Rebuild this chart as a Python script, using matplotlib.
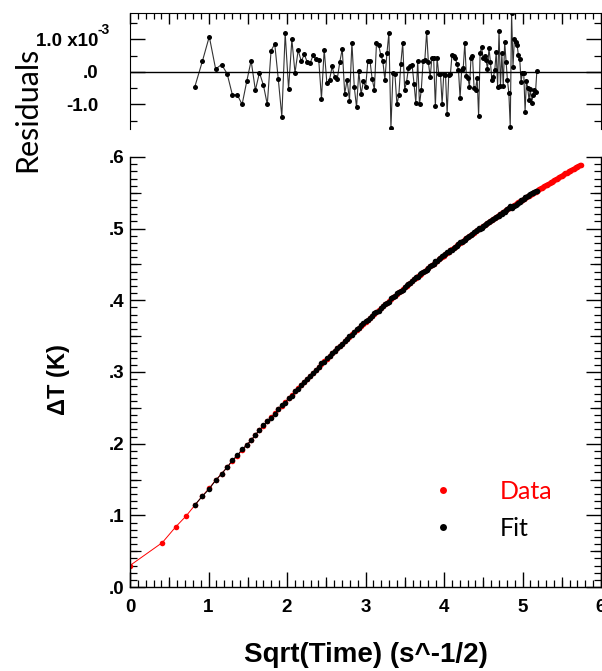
import matplotlib
matplotlib.use('Agg')
import matplotlib.pyplot as plt
from matplotlib.lines import Line2D
from matplotlib.ticker import MultipleLocator, FixedLocator, NullFormatter
import numpy as np

plt.rcParams['axes.unicode_minus'] = False

# ---------------- data ----------------
sqrt_time = [0.000, 0.412, 0.583, 0.714, 0.825, 0.922, 1.010, 1.091, 1.166, 1.237,
             1.304, 1.367, 1.428, 1.487, 1.543, 1.597, 1.649, 1.700, 1.749, 1.797,
             1.844, 1.889, 1.934, 1.977, 2.020, 2.062, 2.102, 2.142, 2.182, 2.220,
             2.258, 2.296, 2.332, 2.369, 2.404, 2.439, 2.474, 2.508, 2.542, 2.575,
             2.608, 2.640, 2.672, 2.704, 2.735, 2.766, 2.796, 2.827, 2.857, 2.886,
             2.915, 2.944, 2.973, 3.002, 3.030, 3.058, 3.085, 3.113, 3.140, 3.167,
             3.194, 3.220, 3.247, 3.273, 3.298, 3.324, 3.350, 3.375, 3.400, 3.425,
             3.450, 3.474, 3.499, 3.523, 3.547, 3.571, 3.594, 3.618, 3.641, 3.665,
             3.688, 3.711, 3.734, 3.756, 3.779, 3.801, 3.824, 3.846, 3.868, 3.890,
             3.912, 3.933, 3.955, 3.976, 3.997, 4.019, 4.040, 4.061, 4.082, 4.102,
             4.123, 4.144, 4.164, 4.184, 4.205, 4.225, 4.245, 4.265, 4.285, 4.305,
             4.324, 4.344, 4.363, 4.383, 4.402, 4.422, 4.441, 4.460, 4.479, 4.498,
             4.517, 4.535, 4.554, 4.573, 4.591, 4.610, 4.628, 4.647, 4.665, 4.683,
             4.701, 4.719, 4.737, 4.755, 4.773, 4.791, 4.808, 4.826, 4.844, 4.861,
             4.879, 4.896, 4.913, 4.931, 4.948, 4.965, 4.982, 4.999, 5.016, 5.033,
             5.050, 5.067, 5.083, 5.100, 5.117, 5.133, 5.150, 5.166, 5.183, 5.199,
             5.215, 5.232, 5.248, 5.264, 5.280, 5.296, 5.312, 5.328, 5.344, 5.360,
             5.376, 5.392, 5.407, 5.423, 5.439, 5.454, 5.470, 5.485, 5.501, 5.516,
             5.532, 5.547, 5.562, 5.578, 5.593, 5.608, 5.623, 5.638, 5.653, 5.668,
             5.683, 5.698, 5.713, 5.728, 5.743]

delta_t = [0.0300, 0.0620, 0.0840, 0.0990, 0.1140, 0.1270, 0.1380, 0.1490, 0.1580, 0.1670,
           0.1760, 0.1830, 0.1910, 0.1980, 0.2050, 0.2120, 0.2190, 0.2250, 0.2310, 0.2370,
           0.2423, 0.2477, 0.2531, 0.2582, 0.2633, 0.2682, 0.2729, 0.2775, 0.2822, 0.2866,
           0.2909, 0.2951, 0.2992, 0.3034, 0.3073, 0.3112, 0.3150, 0.3187, 0.3224, 0.3260,
           0.3295, 0.3329, 0.3363, 0.3397, 0.3429, 0.3462, 0.3494, 0.3526, 0.3556, 0.3586,
           0.3615, 0.3645, 0.3674, 0.3704, 0.3732, 0.3759, 0.3786, 0.3813, 0.3840, 0.3866,
           0.3893, 0.3918, 0.3944, 0.3969, 0.3993, 0.4017, 0.4042, 0.4066, 0.4090, 0.4113,
           0.4136, 0.4158, 0.4182, 0.4204, 0.4226, 0.4248, 0.4269, 0.4291, 0.4312, 0.4333,
           0.4354, 0.4374, 0.4395, 0.4415, 0.4435, 0.4455, 0.4475, 0.4494, 0.4513, 0.4532,
           0.4551, 0.4570, 0.4589, 0.4607, 0.4625, 0.4644, 0.4662, 0.4680, 0.4697, 0.4714,
           0.4732, 0.4750, 0.4767, 0.4783, 0.4801, 0.4817, 0.4834, 0.4850, 0.4866, 0.4883,
           0.4898, 0.4914, 0.4930, 0.4946, 0.4962, 0.4977, 0.4992, 0.5007, 0.5022, 0.5036,
           0.5051, 0.5065, 0.5080, 0.5095, 0.5109, 0.5123, 0.5137, 0.5151, 0.5164, 0.5177,
           0.5191, 0.5204, 0.5217, 0.5231, 0.5244, 0.5257, 0.5270, 0.5282, 0.5295, 0.5307,
           0.5320, 0.5332, 0.5344, 0.5356, 0.5368, 0.5380, 0.5392, 0.5404, 0.5416, 0.5427,
           0.5439, 0.5451, 0.5461, 0.5473, 0.5485, 0.5495, 0.5507, 0.5518, 0.5529, 0.5540,
           0.5551, 0.5562, 0.5573, 0.5584, 0.5594, 0.5605, 0.5615, 0.5626, 0.5637, 0.5647,
           0.5658, 0.5669, 0.5679, 0.5689, 0.5699, 0.5709, 0.5720, 0.5729, 0.5740, 0.5749,
           0.5760, 0.5770, 0.5779, 0.5790, 0.5799, 0.5809, 0.5819, 0.5828, 0.5838, 0.5847,
           0.5857, 0.5866, 0.5876, 0.5885, 0.5895]

# fit covers data points index 4 .. 158
fit_first = 4
fit_last = 158

# residuals (data - fit) in units of 1e-3 K
residuals_e3 = [-0.46, 0.33, 1.09, 0.09, 0.23, -0.05, -0.70, -0.70, -1.00, -0.29,
                0.35, -0.56, -0.02, -0.41, -1.00, 0.66, 0.86, -0.22, -1.37, 1.19,
                -0.52, 1.00, -0.03, 0.67, 0.33, 0.54, 0.31, 0.28, 0.51, 0.39,
                0.38, -0.82, 0.69, -0.34, -0.24, 0.17, -0.16, -0.22, 0.30, 0.71,
                -0.67, -0.24, -0.88, 0.90, -0.46, -1.09, 0.02, -0.68, -0.29, -0.46,
                0.33, 0.33, -0.22, -0.54, 0.89, 0.84, 0.53, 0.35, -0.24, 0.58,
                1.20, -1.72, -0.04, -0.06, -1.00, -0.70, 0.25, 0.89, -0.54, -0.31,
                0.12, 0.17, 0.21, -0.36, -0.95, 0.33, -1.00, -0.54, 0.35, 0.38,
                1.23, 0.30, -0.16, 0.43, 0.43, -1.06, 0.43, -0.06, -0.06, -0.98,
                -0.06, -0.08, -1.29, -0.08, -0.06, 0.53, 0.48, 0.43, 0.25, 0.07,
                -0.80, 0.07, 0.12, 0.89, -0.13, -0.18, -0.46, 0.43, 0.48, -0.49,
                -0.54, -0.18, -1.36, 0.57, 0.78, 0.42, 0.49, 0.37, 0.10, 0.73,
                0.32, -0.25, -0.16, 0.06, 0.62, -0.45, 1.27, -0.43, 0.57, -0.43,
                0.93, 0.32, -0.25, -0.64, -1.68, 1.81, 0.16, 1.00, 0.93, 0.83,
                0.52, 0.39, -0.30, -0.02, -0.04, -1.22, -0.27, -0.50, -0.86, -0.53,
                -0.96, -0.71, -0.55, -0.61, 0.03]

x_ticks_main = [0, 1, 2, 3, 4, 5, 6]
x_tick_labels = ['0', '1', '2', '3', '4', '5', '6']
y_ticks_main = [0.0, 0.1, 0.2, 0.3, 0.4, 0.5, 0.6]
y_tick_labels = ['.0', '.1', '.2', '.3', '.4', '.5', '.6']
res_ticks = [-1.0, 0.0, 1.0]
res_tick_labels = ['-1.0', '.0', '1.0 x10']
res_exponent = '-3'

# --------------- derived ---------------
x_data = np.array(sqrt_time)
y_data = np.array(delta_t)
x_fit = x_data[fit_first:fit_last + 1]
res = np.array(residuals_e3)
y_fit = y_data[fit_first:fit_last + 1] - res * 1e-3

W, H = 602, 671
fig = plt.figure(figsize=(W / 100, H / 100), dpi=100)

def frac_box(l, t, r, b):
    return [l / W, 1 - b / H, (r - l) / W, (b - t) / H]

ax = fig.add_axes(frac_box(130, 157, 601, 587))
axr = fig.add_axes(frac_box(130, 13, 601, 129))

TICKFONT = dict(family='Liberation Sans', weight='bold', size=13.5)

# ---- main plot ----
ax.plot(x_data, y_data, color='red', lw=0.7, marker='o', ms=4.0, mew=0, zorder=2)
ax.plot(x_fit, y_fit, color='black', lw=0.7, marker='o', ms=4.0, mew=0, zorder=3)

ax.set_xlim(0, 6)
ax.set_ylim(0, 0.6)
ax.spines['top'].set_visible(False)
for s in ['left', 'right', 'bottom']:
    ax.spines[s].set_linewidth(1.0)
ax.xaxis.set_major_locator(FixedLocator(x_ticks_main))
ax.xaxis.set_minor_locator(MultipleLocator(0.1))
ax.yaxis.set_major_locator(FixedLocator(y_ticks_main))
ax.yaxis.set_minor_locator(MultipleLocator(0.01))
ax.set_xticklabels(x_tick_labels, fontdict=TICKFONT)
ax.set_yticklabels(y_tick_labels, fontdict=TICKFONT)
ax.tick_params(which='both', direction='in', top=False, right=True, width=1, color='black')
ax.tick_params(which='major', length=11)
ax.tick_params(which='minor', length=5, width=0.9)
ax.tick_params(axis='x', which='major', pad=9)
ax.tick_params(axis='y', which='major', pad=4)

# medium ticks at halves
for loc in ['bottom']:
    sx = ax.secondary_xaxis(loc)
    sx.xaxis.set_major_locator(FixedLocator(list(np.arange(0.5, 6, 1.0))))
    sx.xaxis.set_major_formatter(NullFormatter())
    sx.tick_params(direction='in', length=7, width=0.9)
    sx.spines[loc].set_visible(False)
for loc in ['left', 'right']:
    sy = ax.secondary_yaxis(loc)
    sy.yaxis.set_major_locator(FixedLocator(list(np.arange(0.05, 0.6, 0.1))))
    sy.yaxis.set_major_formatter(NullFormatter())
    sy.tick_params(direction='in', length=8, width=0.9)
    sy.spines[loc].set_visible(False)

handles = [Line2D([], [], color='red', marker='o', linestyle='None', ms=5, mew=0),
           Line2D([], [], color='black', marker='o', linestyle='None', ms=5, mew=0)]
leg = ax.legend(handles, ['Data', 'Fit'], loc='center left',
                bbox_to_anchor=((430.5 - 130) / 471, (587 - 510) / 430),
                bbox_transform=ax.transAxes, frameon=False, handlelength=1.0,
                handletextpad=1.78, borderpad=0, borderaxespad=0, labelspacing=0.55,
                prop=dict(family='Lato', size=18))
leg.get_texts()[0].set_color('red')
leg.get_texts()[1].set_color('black')

fig.text(365.5 / W, 1 - 655 / H, 'Sqrt(Time) (s^-1/2)', ha='center', va='center',
         family='Liberation Sans', weight='bold', size=20)
fig.text(58 / W, 1 - 380 / H, '\u0394T (K)', ha='center', va='center', rotation=90,
         family='Liberation Sans', weight='bold', size=17)

# ---- residual plot ----
axr.plot(x_fit, res, color='#333333', lw=0.8, marker='o', ms=3.6, mfc='black',
         mec='black', mew=0)
axr.axhline(0, color='black', lw=1.0)
axr.set_xlim(0, 6)
axr.set_ylim(-1.754, 1.815)
axr.spines['bottom'].set_visible(False)
axr.xaxis.set_major_locator(MultipleLocator(0.5))
axr.xaxis.set_minor_locator(MultipleLocator(0.1))
axr.xaxis.set_major_formatter(NullFormatter())
axr.yaxis.set_major_locator(FixedLocator(res_ticks))
axr.yaxis.set_minor_locator(FixedLocator([-1.5, -0.5, 0.5, 1.5]))
axr.set_yticklabels(res_tick_labels, fontdict=TICKFONT)
axr.tick_params(which='both', direction='in', top=True, bottom=False, right=True,
                labelbottom=False, width=1, color='black')
axr.tick_params(axis='x', which='major', length=8)
axr.tick_params(axis='x', which='minor', length=4, width=0.9)
axr.tick_params(axis='y', which='major', length=11, pad=23)
axr.tick_params(axis='y', which='minor', length=5, width=0.9)

# exponent of the top residual tick label, as a superscript
axr.annotate(res_exponent, xy=(0, res_ticks[2]), xycoords=('axes fraction', 'data'),
             xytext=(-33, 2), textcoords='offset pixels', ha='left', va='bottom',
             family='Liberation Sans', weight='bold', size=10)

fig.text(27 / W, 1 - 109 / H, 'Residuals', ha='center', va='center', rotation=90,
         family='Lato', size=22)

fig.savefig('out.png', dpi=100)
